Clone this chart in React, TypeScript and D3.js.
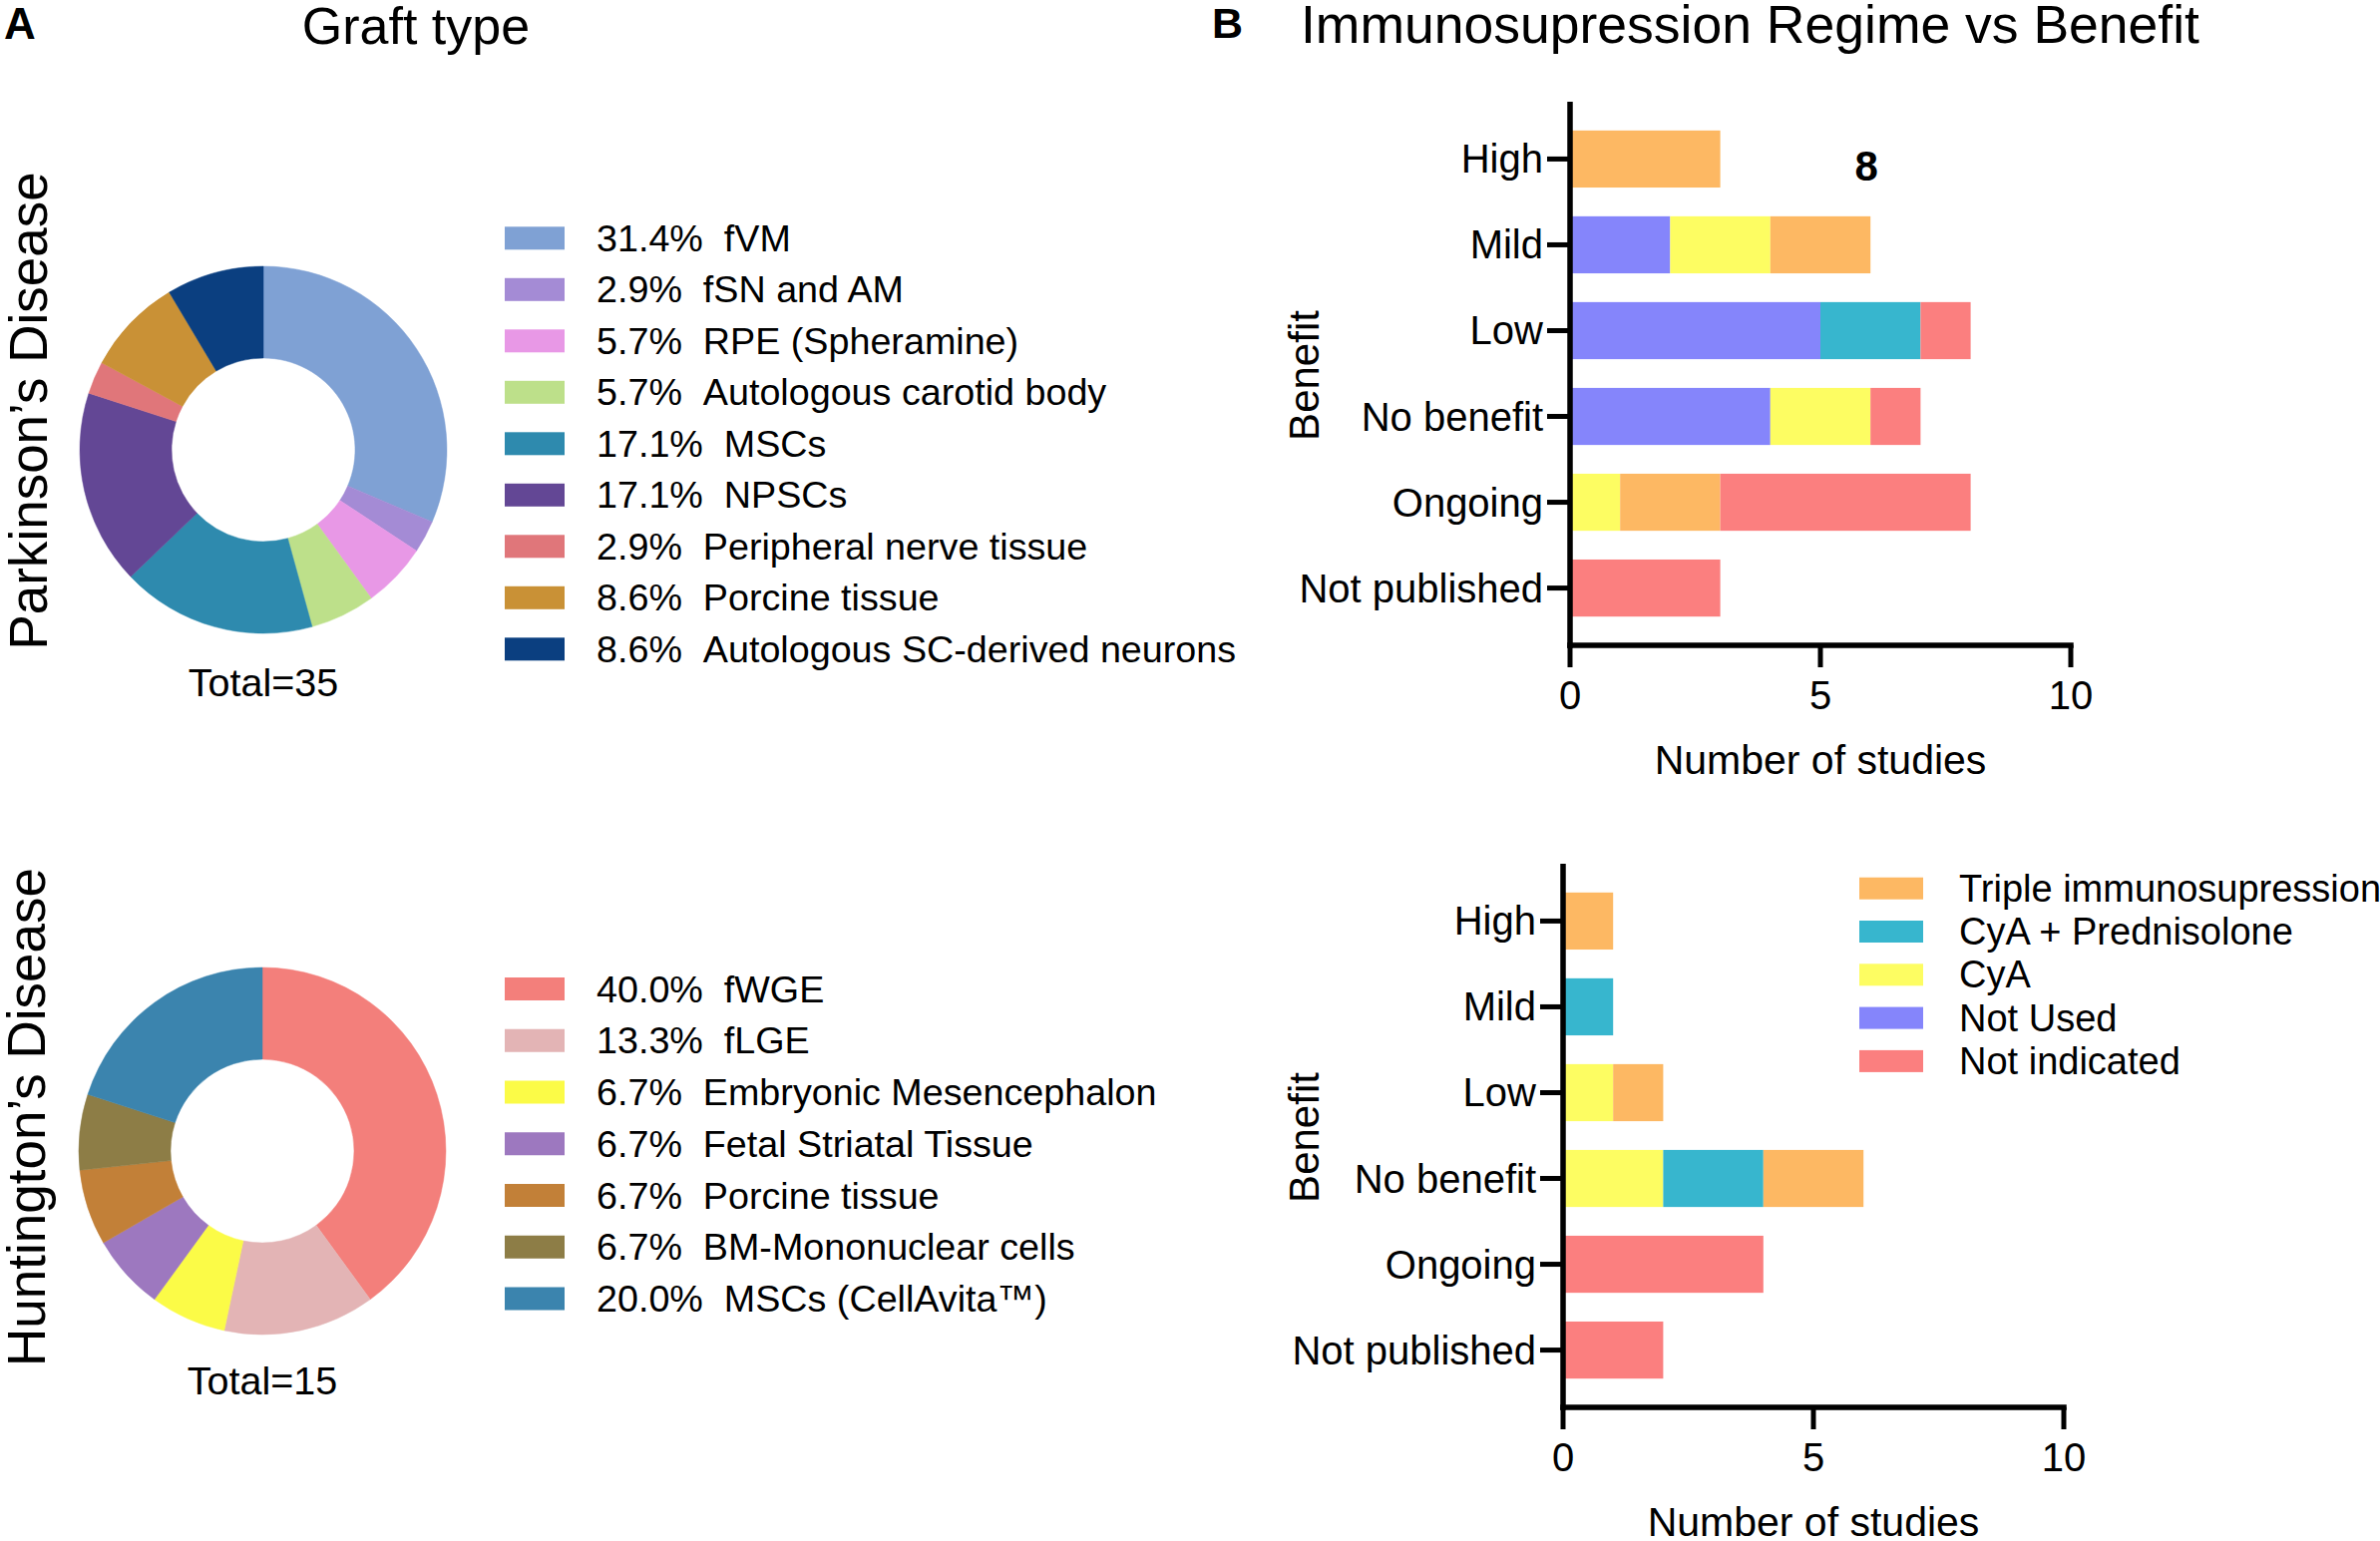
import React from 'react';
import * as d3 from 'd3';

// ---------- Data ----------
const pdLabels = ['fVM', 'fSN and AM', 'RPE (Spheramine)', 'Autologous carotid body', 'MSCs', 'NPSCs', 'Peripheral nerve tissue', 'Porcine tissue', 'Autologous SC-derived neurons'];
const pdCounts = [11, 1, 2, 2, 6, 6, 1, 3, 3];
const pdColors = ['#7fa1d4', '#a48bd5', '#e898e6', '#bde08a', '#2e8aae', '#634795', '#e0767a', '#c99136', '#0b3f80'];

const hdLabels = ['fWGE', 'fLGE', 'Embryonic Mesencephalon', 'Fetal Striatal Tissue', 'Porcine tissue', 'BM-Mononuclear cells', 'MSCs (CellAvita\u2122)'];
const hdCounts = [6, 2, 1, 1, 1, 1, 3];
const hdColors = ['#f37f7b', '#e3b4b5', '#fbfb47', '#9d78bf', '#c28038', '#8d7d46', '#3b84ae'];

const benefitCategories = ['High', 'Mild', 'Low', 'No benefit', 'Ongoing', 'Not published'];
const regimeStackOrder = ['Not Used', 'CyA', 'CyA + Prednisolone', 'Triple immunosupression', 'Not indicated'];
const regimeLegendOrder = ['Triple immunosupression', 'CyA + Prednisolone', 'CyA', 'Not Used', 'Not indicated'];
const regimeColors: Record<string, string> = {
  'Triple immunosupression': '#fdb863',
  'CyA + Prednisolone': '#37b6ce',
  'CyA': '#fdfd62',
  'Not Used': '#8585fb',
  'Not indicated': '#fb7f7f',
};

// Parkinson's (top) bar chart values per benefit category
const pdNotUsed = [0, 2, 5, 4, 0, 0];
const pdCyA = [0, 2, 0, 2, 1, 0];
const pdCyAPred = [0, 0, 2, 0, 0, 0];
const pdTriple = [3, 2, 0, 0, 2, 0];
const pdNotIndicated = [0, 0, 1, 1, 5, 3];

// Huntington's (bottom) bar chart values per benefit category
const hdNotUsed = [0, 0, 0, 0, 0, 0];
const hdCyA = [0, 0, 1, 2, 0, 0];
const hdCyAPred = [0, 1, 0, 2, 0, 0];
const hdTriple = [1, 0, 1, 2, 0, 0];
const hdNotIndicated = [0, 0, 0, 0, 4, 2];

const xTicks = [0, 5, 10];
const xDomain = [0, 10];

// stray annotation in the top chart
const annotationText = '8';
const annotationX = 5.92;
const annotationCategory = 'High';

const FONT = "'Liberation Sans', Arial, sans-serif";

function buildRows(notUsed: number[], cya: number[], cyaPred: number[], triple: number[], notInd: number[]) {
  return benefitCategories.map((c, i) => ({
    category: c,
    'Not Used': notUsed[i],
    'CyA': cya[i],
    'CyA + Prednisolone': cyaPred[i],
    'Triple immunosupression': triple[i],
    'Not indicated': notInd[i],
  }));
}

// ---------- Donut ----------
function Donut({ counts, colors, labels, cx, cy, totalY, legendY0, legendStep }: any) {
  const total = d3.sum(counts);
  const pie = d3.pie<number>().sort(null).value((d) => d);
  const arc = d3.arc<d3.PieArcDatum<number>>().innerRadius(92).outerRadius(184);
  const arcs = pie(counts);
  return (
    <g>
      <g transform={`translate(${cx},${cy})`}>
        {arcs.map((a, i) => (
          <path key={i} d={arc(a) || ''} fill={colors[i]} stroke={colors[i]} strokeWidth={0.5} />
        ))}
      </g>
      <text x={cx} y={totalY} textAnchor="middle" fontSize={39.5} fontFamily={FONT} dominantBaseline="central">
        {`Total=${total}`}
      </text>
      {labels.map((l: string, i: number) => {
        const y = legendY0 + i * legendStep;
        const pct = ((counts[i] / total) * 100).toFixed(1) + '%';
        return (
          <g key={l}>
            <rect x={506} y={y - 11.5} width={60} height={23} fill={colors[i]} />
            <text x={598} y={y} fontSize={37.7} fontFamily={FONT} dominantBaseline="central">
              {`${pct}\u00a0\u00a0${l}`}
            </text>
          </g>
        );
      })}
    </g>
  );
}

// ---------- Stacked bar ----------
function StackedBar({ rows, x0, yTop, yBottom, annotation }: any) {
  const x = d3.scaleLinear().domain(xDomain).range([x0, x0 + 502]);
  const y = d3.scaleBand<string>().domain(benefitCategories).range([yTop, yBottom]).padding(0.335);
  const stack = d3.stack<any>().keys(regimeStackOrder);
  const series = stack(rows);
  const sw = 5.5;
  return (
    <g fontFamily={FONT}>
      {series.map((s) => (
        <g key={s.key} fill={regimeColors[s.key]}>
          {s.map((d, i) =>
            d[1] - d[0] > 0 ? (
              <rect key={i} x={x(d[0])} y={y(d.data.category)!} width={x(d[1]) - x(d[0])} height={y.bandwidth()} />
            ) : null
          )}
        </g>
      ))}
      {/* y axis */}
      <line x1={x0} x2={x0} y1={yTop} y2={yBottom + sw / 2} stroke="#000" strokeWidth={sw} />
      {benefitCategories.map((c) => {
        const cy = y(c)! + y.bandwidth() / 2;
        return (
          <g key={c}>
            <line x1={x0 - 23} x2={x0} y1={cy} y2={cy} stroke="#000" strokeWidth={5} />
            <text x={x0 - 27} y={cy} textAnchor="end" dominantBaseline="central" fontSize={40}>
              {c}
            </text>
          </g>
        );
      })}
      {/* x axis */}
      <line x1={x0 - sw / 2} x2={x(10) + sw / 2} y1={yBottom} y2={yBottom} stroke="#000" strokeWidth={sw} />
      {xTicks.map((t) => (
        <g key={t}>
          <line x1={x(t)} x2={x(t)} y1={yBottom} y2={yBottom + 22} stroke="#000" strokeWidth={5} />
          <text x={x(t)} y={yBottom + 50} textAnchor="middle" dominantBaseline="central" fontSize={40}>
            {t}
          </text>
        </g>
      ))}
      <text x={x(5)} y={yBottom + 115} textAnchor="middle" dominantBaseline="central" fontSize={41}>
        Number of studies
      </text>
      <text transform={`translate(1322,${(yTop + yBottom) / 2 + 2}) rotate(-90)`} textAnchor="middle" fontSize={42}>
        Benefit
      </text>
      {annotation ? (
        <text x={x(annotation.x)} y={y(annotation.category)! + y.bandwidth() / 2 + 22} textAnchor="middle" fontSize={42} fontWeight="bold">
          {annotation.text}
        </text>
      ) : null}
    </g>
  );
}

export default function App() {
  const pdRows = buildRows(pdNotUsed, pdCyA, pdCyAPred, pdTriple, pdNotIndicated);
  const hdRows = buildRows(hdNotUsed, hdCyA, hdCyAPred, hdTriple, hdNotIndicated);
  return (
    <div style={{ position: 'absolute', left: 0, top: 0 }}>
      <svg width={2386} height={1545} viewBox="0 0 2386 1545" style={{ display: 'block', background: '#fff' }}>
        <rect width={2386} height={1545} fill="#fff" />
        {/* Panel letters & titles */}
        <text x={4} y={39} fontSize={44} fontWeight="bold" fontFamily={FONT}>A</text>
        <text x={417} y={44} fontSize={52} textAnchor="middle" fontFamily={FONT}>Graft type</text>
        <text x={1215} y={38} fontSize={43} fontWeight="bold" fontFamily={FONT}>B</text>
        <text x={1304} y={43} fontSize={53.5} fontFamily={FONT}>Immunosupression Regime vs Benefit</text>

        {/* Row labels */}
        <text transform="translate(47,412) rotate(-90)" textAnchor="middle" fontSize={53} fontFamily={FONT}>
          {'Parkinson\u2019s Disease'}
        </text>
        <text transform="translate(45,1120) rotate(-90)" textAnchor="middle" fontSize={53} fontFamily={FONT}>
          {'Huntington\u2019s Disease'}
        </text>

        <Donut counts={pdCounts} colors={pdColors} labels={pdLabels} cx={264} cy={451} totalY={684} legendY0={238.8} legendStep={51.5} />
        <Donut counts={hdCounts} colors={hdColors} labels={hdLabels} cx={263} cy={1154} totalY={1384} legendY0={991.5} legendStep={51.75} />

        <StackedBar
          rows={pdRows}
          x0={1574}
          yTop={102}
          yBottom={647}
          annotation={{ text: annotationText, x: annotationX, category: annotationCategory }}
        />
        <StackedBar rows={hdRows} x0={1567} yTop={866} yBottom={1411} />

        {/* Regime legend */}
        <g fontFamily={FONT}>
          {regimeLegendOrder.map((k, i) => {
            const y = 890.7 + i * 43.3;
            return (
              <g key={k}>
                <rect x={1864} y={y - 11} width={64} height={22} fill={regimeColors[k]} />
                <text x={1964} y={y} fontSize={38} dominantBaseline="central">{k}</text>
              </g>
            );
          })}
        </g>
      </svg>
    </div>
  );
}
